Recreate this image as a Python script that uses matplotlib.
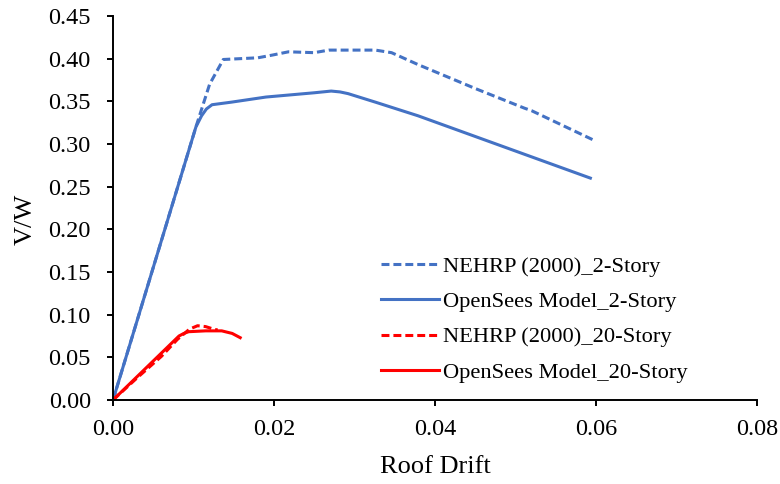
import matplotlib.pyplot as plt
from matplotlib.ticker import FormatStrFormatter, MultipleLocator

plt.rcParams['font.family'] = ['Liberation Serif', 'DejaVu Serif']

# pushover curves: roof drift vs. base shear ratio
nehrp_2_drift = [0.0, 0.0103, 0.0120, 0.0137, 0.0180, 0.0197, 0.0218, 0.0250, 0.0268,
                 0.0326, 0.0346, 0.0379, 0.0450, 0.0511, 0.0520, 0.0596]
nehrp_2_vw = [0.0, 0.320, 0.370, 0.399, 0.401, 0.404, 0.408, 0.407, 0.410,
              0.410, 0.407, 0.393, 0.365, 0.342, 0.339, 0.305]

ops_2_drift = [0.0, 0.0103, 0.0110, 0.0116, 0.0123, 0.0147, 0.0190, 0.0250, 0.0271,
               0.0282, 0.0292, 0.0326, 0.0379, 0.0593]
ops_2_vw = [0.0, 0.320, 0.333, 0.341, 0.346, 0.349, 0.355, 0.360, 0.362,
            0.361, 0.359, 0.349, 0.333, 0.260]

nehrp_20_drift = [0.0, 0.0030, 0.0060, 0.0080, 0.0095, 0.0105, 0.0115, 0.0125, 0.0130]
nehrp_20_vw = [0.0, 0.026, 0.051, 0.071, 0.083, 0.087, 0.086, 0.083, 0.082]

ops_20_drift = [0.0, 0.0082, 0.0088, 0.0094, 0.0115, 0.0135, 0.0148, 0.0158]
ops_20_vw = [0.0, 0.075, 0.078, 0.080, 0.081, 0.081, 0.078, 0.073]

blue = '#4472C4'
red = '#FF0000'

fig = plt.figure(figsize=(7.8, 4.84), dpi=100)
ax = fig.add_axes([0.1449, 0.1736, 0.8256, 0.7934])

lw = 2.2
ax.plot(nehrp_2_drift, nehrp_2_vw, color=blue, lw=lw, dashes=(2.6, 1.3),
        label='NEHRP (2000)_2-Story')
ax.plot(ops_2_drift, ops_2_vw, color=blue, lw=lw, label='OpenSees Model_2-Story')
ax.plot(nehrp_20_drift, nehrp_20_vw, color=red, lw=lw, dashes=(2.6, 1.3),
        label='NEHRP (2000)_20-Story')
ax.plot(ops_20_drift, ops_20_vw, color=red, lw=lw, label='OpenSees Model_20-Story')

ax.set_xlim(0, 0.08)
ax.set_ylim(0, 0.45)
ax.xaxis.set_major_locator(MultipleLocator(0.02))
ax.yaxis.set_major_locator(MultipleLocator(0.05))
ax.xaxis.set_major_formatter(FormatStrFormatter('%.2f'))
ax.yaxis.set_major_formatter(FormatStrFormatter('%.2f'))

for side in ('top', 'right'):
    ax.spines[side].set_visible(False)
for side in ('left', 'bottom'):
    ax.spines[side].set_linewidth(1.4)
ax.tick_params(direction='out', length=4, width=1.4, labelsize=17.5)
ax.tick_params(axis='x', pad=10)
ax.tick_params(axis='y', pad=12)

ax.set_xlabel('Roof Drift', fontsize=19, labelpad=11)
ax.set_ylabel('V/W', fontsize=19, labelpad=8)
ax.yaxis.label.set_y(0.471)

ax.legend(loc='upper left', bbox_to_anchor=(0.416, 0.374), frameon=False,
          fontsize=16.2, handlelength=2.58, handletextpad=0.2, labelspacing=0.64,
          borderpad=0, borderaxespad=0)

fig.savefig('out.png', dpi=100)
